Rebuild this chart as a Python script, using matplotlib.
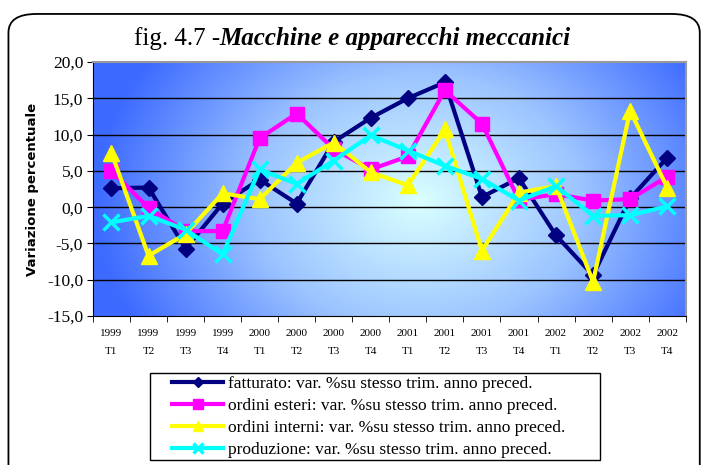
import matplotlib.pyplot as plt
import numpy as np
from matplotlib.patches import FancyBboxPatch, Rectangle
from matplotlib.colors import LinearSegmentedColormap

# quarters
anni = ['1999'] * 4 + ['2000'] * 4 + ['2001'] * 4 + ['2002'] * 4
trim = ['T1', 'T2', 'T3', 'T4'] * 4
etichette = [a + '\n' + t for a, t in zip(anni, trim)]

fatturato = [2.6, 2.7, -5.7, 0.5, 3.8, 0.5, 9.0, 12.3, 15.0, 17.2, 1.4, 4.0, -3.9, -9.4, 1.2, 6.8]
ordini_esteri = [5.0, -0.1, -3.3, -3.3, 9.5, 12.9, 8.0, 5.2, 7.0, 16.1, 11.5, 1.0, 1.8, 0.9, 1.1, 4.2]
ordini_interni = [7.5, -6.7, -3.7, 1.9, 1.1, 6.1, 8.9, 4.8, 3.0, 10.7, -6.0, 2.0, 2.9, -10.3, 13.3, 2.7]
produzione = [-2.1, -1.2, -3.1, -6.5, 5.2, 3.2, 6.4, 9.9, 7.8, 5.7, 3.9, 0.9, 2.9, -1.2, -1.1, 0.1]

serie = [
    ('fatturato: var. %su stesso trim. anno preced.', fatturato, '#000080', 'D', 8),
    ('ordini esteri: var. %su stesso trim. anno preced.', ordini_esteri, '#ff00ff', 's', 10),
    ('ordini interni: var. %su stesso trim. anno preced.', ordini_interni, '#ffff00', '^', 11),
    ('produzione: var. %su stesso trim. anno preced.', produzione, '#00ffff', 'x', 11),
]

fig = plt.figure(figsize=(7.04, 4.65), dpi=100)
fig.patch.set_facecolor('white')

# rounded outer frame
frame = FancyBboxPatch((0.012, -0.05), 0.982, 1.02, boxstyle='round,pad=0,rounding_size=0.04',
                       transform=fig.transFigure, fill=False, edgecolor='black', linewidth=1.3)
fig.patches.append(frame)

# legend box
fig.patches.append(Rectangle((150 / 704, 1 - 460 / 465), 450 / 704, 87 / 465,
                             transform=fig.transFigure, fill=False, edgecolor='black', linewidth=1.0))

ax = fig.add_axes([0.132, 0.3204, 0.842, 0.5463])
x = np.arange(len(etichette))

# gradient background
gx, gy = np.meshgrid(np.linspace(0, 1, 300), np.linspace(0, 1, 200))
d = np.sqrt(((gx - 0.55) / 0.55) ** 2 + ((gy - 0.45) / 1.0) ** 2)
d = np.clip(d, 0, 1)
cmap = LinearSegmentedColormap.from_list('bg', ['#d9ffff', '#9cc4ff', '#3d6aff'])
ax.imshow(d, cmap=cmap, extent=(-0.5, len(x) - 0.5, -15, 20), aspect='auto', origin='lower', zorder=0)

for v in range(-10, 20, 5):
    ax.axhline(v, color='black', linewidth=1.0, zorder=1)

for nome, valori, col, mk, ms in serie:
    if mk == 'x':
        ax.plot(x, valori, color=col, marker=mk, markersize=ms, markeredgewidth=2.5,
                linewidth=3.0, label=nome, zorder=3)
    else:
        ax.plot(x, valori, color=col, marker=mk, markersize=ms, linewidth=3.0,
                label=nome, zorder=3)

ax.set_xlim(-0.5, len(x) - 0.5)
ax.set_ylim(-15, 20)
ax.set_yticks(range(-15, 21, 5))
ax.set_yticklabels([f'{v:.1f}'.replace('.', ',') for v in range(-15, 21, 5)],
                   fontsize=12.5, family='Liberation Serif')
ax.set_xticks(x)
ax.set_xticklabels(etichette, fontsize=8, family='Liberation Serif', linespacing=2.3)
ax.set_xticks(np.arange(-0.5, len(x)), minor=True)
ax.tick_params(axis='x', which='major', length=0, pad=9)
ax.tick_params(axis='x', which='minor', length=4, direction='out')
ax.tick_params(axis='y', length=4, direction='out', pad=3)

for s in ['top', 'right']:
    ax.spines[s].set_color('#999999')
    ax.spines[s].set_linewidth(1.5)
ax.spines['left'].set_color('black')
ax.spines['bottom'].set_color('black')

ax.set_ylabel('Variazione percentuale', fontsize=9.5, fontweight='bold', family='DejaVu Sans', labelpad=6)

fig.text(0.312, 0.918, 'fig. 4.7 -', ha='right', va='center', fontsize=18, family='Liberation Serif')
fig.text(0.312, 0.918, 'Macchine e apparecchi meccanici', ha='left', va='center', fontsize=18,
         family='Liberation Serif', style='italic', fontweight='bold')

leg = fig.legend(loc='upper left', bbox_to_anchor=(172 / 704, 1 - 376 / 465),
                 prop={'family': 'Liberation Serif', 'size': 12.5}, handlelength=2.95,
                 markerscale=0.7, labelspacing=0.33, borderpad=0, borderaxespad=0,
                 handletextpad=0.25, frameon=False)

plt.savefig('out.png', dpi=100)
